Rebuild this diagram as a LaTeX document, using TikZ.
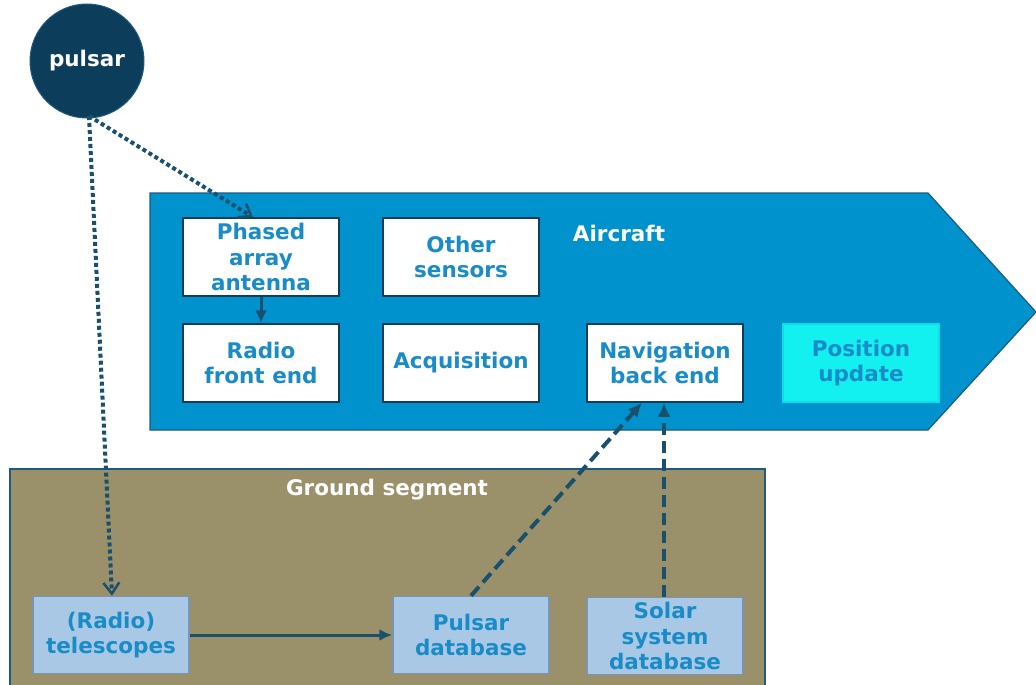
\documentclass[tikz,border=0pt]{standalone}
\usepackage{fontspec}
\setmainfont{DejaVu Sans}
\usetikzlibrary{arrows.meta}
\definecolor{navy}{RGB}{12,62,92}
\definecolor{acblue}{RGB}{0,146,204}
\definecolor{acedge}{RGB}{30,90,130}
\definecolor{txtblue}{RGB}{25,140,200}
\definecolor{olive}{RGB}{154,144,106}
\definecolor{gbox}{RGB}{168,200,230}
\definecolor{gedge}{RGB}{120,150,180}
\definecolor{cyanbox}{RGB}{18,240,240}
\definecolor{lnk}{RGB}{25,80,110}
\tikzset{
  lbl/.style={font=\bfseries\fontsize{21.5}{25.5}\selectfont, align=center},
  wbox/.style={draw=navy, line width=1.5pt, fill=white, text=txtblue, lbl, minimum width=156pt, minimum height=78pt, inner sep=0pt},
  gbx/.style={draw=gedge, line width=1.5pt, fill=gbox, text=txtblue, lbl, minimum width=156pt, minimum height=77pt, inner sep=0pt},
  dotline/.style={draw=lnk, line width=4pt, dash pattern=on 4pt off 3pt, -{Straight Barb[length=11pt,width=16pt,line width=2.5pt]}},
  dashline/.style={draw=lnk, line width=4pt, dash pattern=on 12pt off 6pt, -{Latex[length=14pt,width=13pt]}},
  solidline/.style={draw=lnk, line width=3pt, -{Latex[length=13pt,width=12pt]}},
}
\begin{document}
\begin{tikzpicture}[x=1pt,y=-1pt]
\useasboundingbox (0,0) rectangle (1036,685);
% aircraft arrow shape
\draw[fill=acblue, draw=acedge, line width=1.2pt] (150,193) -- (928,193) -- (1036,312) -- (928,430) -- (150,430) -- cycle;
\node[lbl, text=white] (aircraft) at (619,233) {Aircraft};
% ground segment
\draw[fill=olive, draw=acedge, line width=1.4pt] (10,469) rectangle (765,690);
\node[lbl, text=white] (ground) at (387,490) {Ground segment};
% pulsar
\node[circle, fill=navy, draw=acedge, line width=1pt, minimum size=114pt, text=white, lbl] (pulsar) at (87,61) {pulsar};
% aircraft boxes
\node[wbox] (phased) at (261,257) {Phased\\array\\antenna};
\node[wbox] (other) at (461,257) {Other\\sensors};
\node[wbox] (radio) at (261,363) {Radio\\front end};
\node[wbox] (acq) at (461,363) {Acquisition};
\node[wbox] (nav) at (665,363) {Navigation\\back end};
\node[draw=cyanbox!80!acblue, line width=1.5pt, fill=cyanbox, text=txtblue, lbl, minimum width=156pt, minimum height=78pt, inner sep=0pt] (pos) at (861,363) {Position\\update};
% ground boxes
\node[gbx] (tele) at (111,635) {(Radio)\\telescopes};
\node[gbx] (pdb) at (471,635) {Pulsar\\database};
\node[gbx] (ssdb) at (665,636) {Solar\\system\\database};
% connectors
\coordinate (ps) at (89,116);
\draw[dotline] (ps) -- (phased.north west -| 253,0);
\draw[dotline] (ps) -- (tele.north -| 112,0);
\draw[solidline] (phased.south) -- (radio.north);
\draw[solidline] (tele.east) -- (pdb.west);
\draw[dashline] (pdb.north) -- (nav.south -| 642,0);
\draw[dashline] (ssdb.north -| 664,0) -- (nav.south -| 664,0);
\end{tikzpicture}
\end{document}
